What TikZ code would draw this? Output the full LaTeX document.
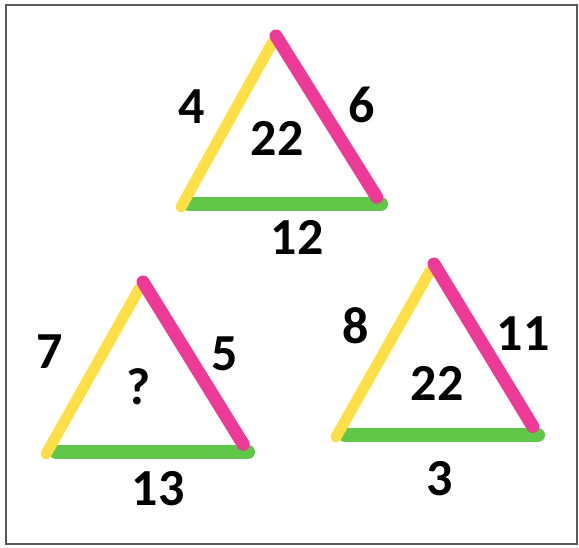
\documentclass[tikz,border=0pt]{standalone}
\usepackage{fontspec}
\setmainfont{Carlito}
\usetikzlibrary{calc}
\definecolor{stickyellow}{RGB}{255,222,70}
\definecolor{stickpink}{RGB}{236,58,150}
\definecolor{stickgreen}{RGB}{96,200,72}
\tikzset{
  stick/.style ={line cap=round},
  ylw/.style   ={stick, draw=stickyellow, line width=5.5pt},
  pnk/.style   ={stick, draw=stickpink, line width=6.5pt},
  grn/.style   ={stick, draw=stickgreen, line width=7pt},
  num/.style   ={font=\bfseries\fontsize{26}{30}\selectfont, inner sep=0pt},
  frame/.style ={draw=black!65, line width=1.2pt},
}
\begin{document}
\begin{tikzpicture}[x=0.5pt, y=-0.5pt]
  \useasboundingbox (0,0) rectangle (579,547);
  \draw[frame] (6,5) rectangle (577,544);

  % top triangle
  \coordinate (tA) at (276,36);
  \coordinate (tL) at (181,207);
  \coordinate (tR) at (381,204);
  \draw[grn, shorten <=4pt] (tL |- tR) -- (tR);
  \draw[ylw, shorten >=3.5pt] (tL) -- (tA);
  \draw[pnk, shorten >=4pt] (tA) -- (tR);
  \node[num] (t-left)  at (192,107) {4};
  \node[num] (t-right) at (362,105) {6};
  \node[num] (t-mid)   at (277,138) {22};
  \node[num] (t-base)  at (297,237) {12};

  % bottom left triangle
  \coordinate (lA) at (143,282);
  \coordinate (lL) at (46,454);
  \coordinate (lR) at (248,452);
  \draw[grn, shorten <=5pt] (lL |- lR) -- (lR);
  \draw[ylw, shorten >=4pt] (lL) -- (lA);
  \draw[pnk, shorten >=4.5pt] (lA) -- (lR);
  \node[num] (l-left)  at (50,352)  {7};
  \node[num] (l-right) at (225,354) {5};
  \node[num] (l-mid)   at (139,387) {?};
  \node[num] (l-base)  at (158,489) {13};

  % bottom right triangle
  \coordinate (rA) at (434,264);
  \coordinate (rL) at (336,437);
  \coordinate (rR) at (538,435);
  \draw[grn, shorten <=4.5pt] (rL |- rR) -- (rR);
  \draw[ylw, shorten >=4pt] (rL) -- (rA);
  \draw[pnk, shorten >=5pt] (rA) -- (rR);
  \node[num] (r-left)  at (356,326) {8};
  \node[num] (r-right) at (523,334) {11};
  \node[num] (r-mid)   at (437,383) {22};
  \node[num] (r-base)  at (440,479) {3};
\end{tikzpicture}
\end{document}
